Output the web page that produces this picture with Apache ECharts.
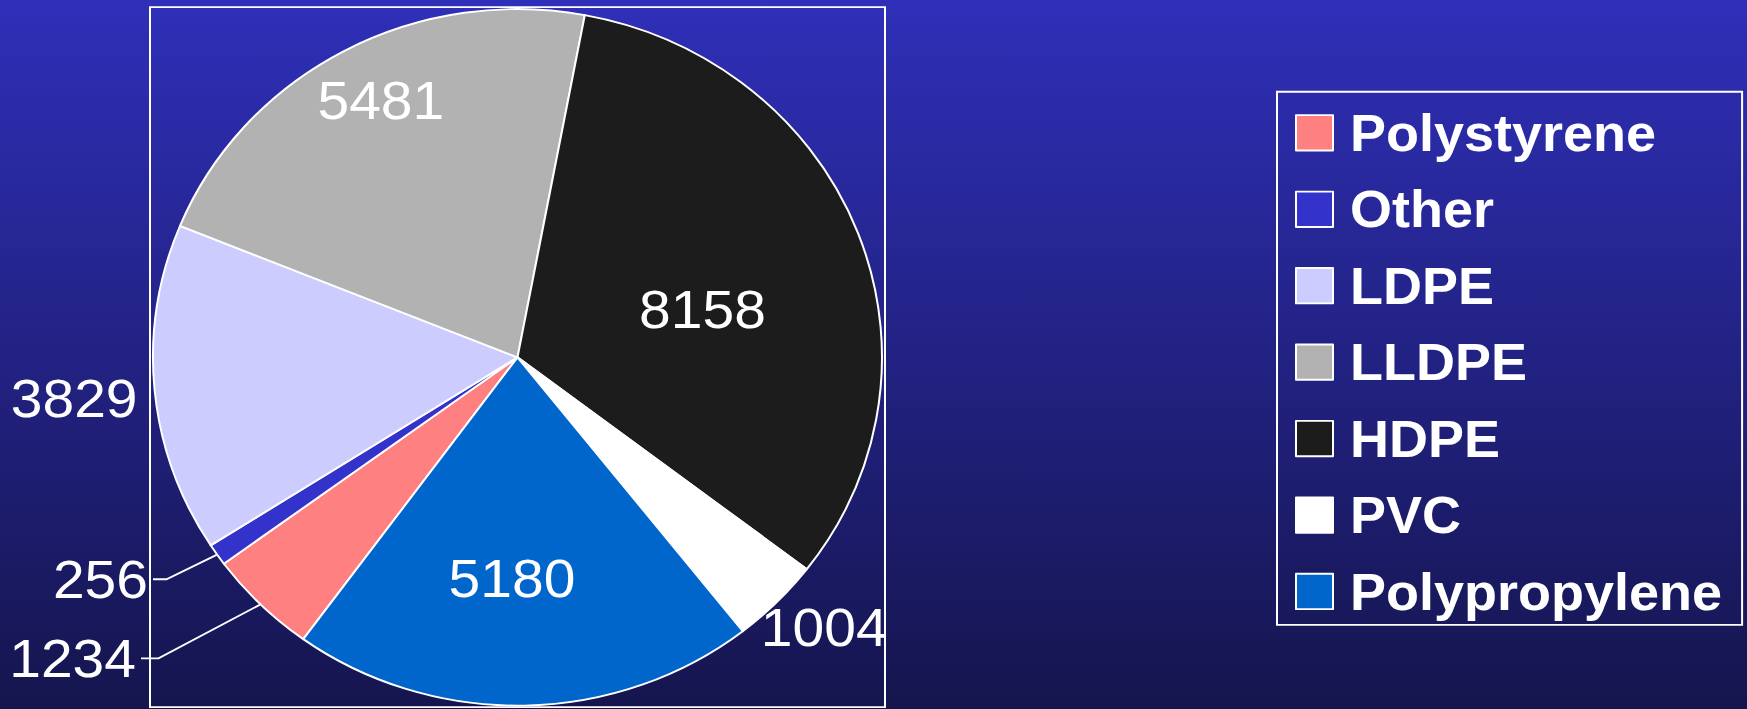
<!DOCTYPE html>
<html>
<head>
<meta charset="utf-8">
<script src="https://cdn.jsdelivr.net/npm/echarts@6/dist/echarts.min.js"></script>
<style>
  html, body { margin: 0; padding: 0; width: 1747px; height: 709px; overflow: hidden; background: #15154e; }
  /* the chart is drawn slightly taller and squeezed vertically, giving the wide oval pie */
  #chart { width: 1747px; height: 742px; transform: scaleY(0.95553); transform-origin: 0 0; }
</style>
</head>
<body>
<div id="chart"></div>
<script>
// Plastic resin volumes
const categories = ['Polystyrene', 'Other', 'LDPE', 'LLDPE', 'HDPE', 'PVC', 'Polypropylene'];
const values = [1234, 256, 3829, 5481, 8158, 1004, 5180];

// Slice fills, in category order
const sliceColors = ['#FF8080', '#3333CC', '#CCCCFF', '#B2B2B2', '#1C1C1C', '#FFFFFF', '#0066CC'];

// Slices whose value is written inside the slice
const insideLabels = ['LLDPE', 'HDPE', 'Polypropylene'];
// Slices labelled just outside the rim, without a leader line
const plainOutside = ['LDPE', 'PVC'];
// Leader lines: [radial length, horizontal length, min turn angle]
const leaderLines = { Other: [45.5, 26.6, 153], Polystyrene: [79.7, 63.3, 151] };
// Small label nudges [dx, dy] in px
const labelShift = {
  LLDPE: [-48, -106],
  HDPE: [12, 16],
  Polypropylene: [-9, 46],
  LDPE: [-12, 10],
  PVC: [-21, 27]
};

const FONT = '"Liberation Sans", Arial, Helvetica, sans-serif';

const chart = echarts.init(document.getElementById('chart'), null, { renderer: 'svg' });

const pieData = categories.map(function (name, i) {
  const item = { name: name, value: values[i], itemStyle: { color: sliceColors[i] } };
  if (insideLabels.indexOf(name) >= 0) {
    item.label = { position: 'inside' };
    item.labelLine = { show: false };
  } else if (plainOutside.indexOf(name) >= 0) {
    item.label = { position: 'outside', distanceToLabelLine: 5 };
    item.labelLine = { show: false, length: 0, length2: 0 };
  } else {
    const ll = leaderLines[name];
    item.label = { position: 'outside' };
    item.labelLine = { show: true, length: ll[0], length2: ll[1], minTurnAngle: ll[2] };
  }
  return item;
});

chart.setOption({
  animation: false,
  backgroundColor: new echarts.graphic.LinearGradient(0, 0, 0, 1, [
    { offset: 0, color: '#2F2FB9' },
    { offset: 1, color: '#15154E' }
  ]),
  graphic: [{
    type: 'rect',
    z: -1,
    shape: { x: 150, y: 7.5, width: 735, height: 732.5 },
    style: { fill: 'none', stroke: '#FFFFFF', lineWidth: 2 }
  }],
  legend: {
    orient: 'vertical',
    left: 1277,
    top: 96,
    height: 640,
    padding: [16, 20, 8, 18],
    itemWidth: 37,
    itemHeight: 37,
    itemGap: 26,
    icon: 'rect',
    borderColor: '#FFFFFF',
    borderWidth: 2,
    selectedMode: false,
    itemStyle: { borderColor: '#FFFFFF', borderWidth: 2 },
    textStyle: {
      color: '#FFFFFF',
      fontFamily: FONT,
      fontWeight: 'bold',
      fontSize: 54,
      padding: [0, 0, 0, 12]
    },
    data: categories
  },
  series: [{
    type: 'pie',
    center: [517.5, 374],
    radius: 364.5,
    startAngle: -126,
    clockwise: true,
    avoidLabelOverlap: false,
    itemStyle: { borderColor: '#FFFFFF', borderWidth: 2 },
    label: {
      color: '#FFFFFF',
      fontFamily: FONT,
      fontSize: 57,
      formatter: '{c}',
      distanceToLabelLine: 5
    },
    labelLine: {
      lineStyle: { color: '#FFFFFF', width: 2 },
      maxSurfaceAngle: 180
    },
    labelLayout: function (p) {
      const s = labelShift[categories[p.dataIndex]];
      return s ? { dx: s[0], dy: s[1] } : {};
    },
    emphasis: { disabled: true },
    data: pieData
  }]
});
</script>
</body>
</html>
